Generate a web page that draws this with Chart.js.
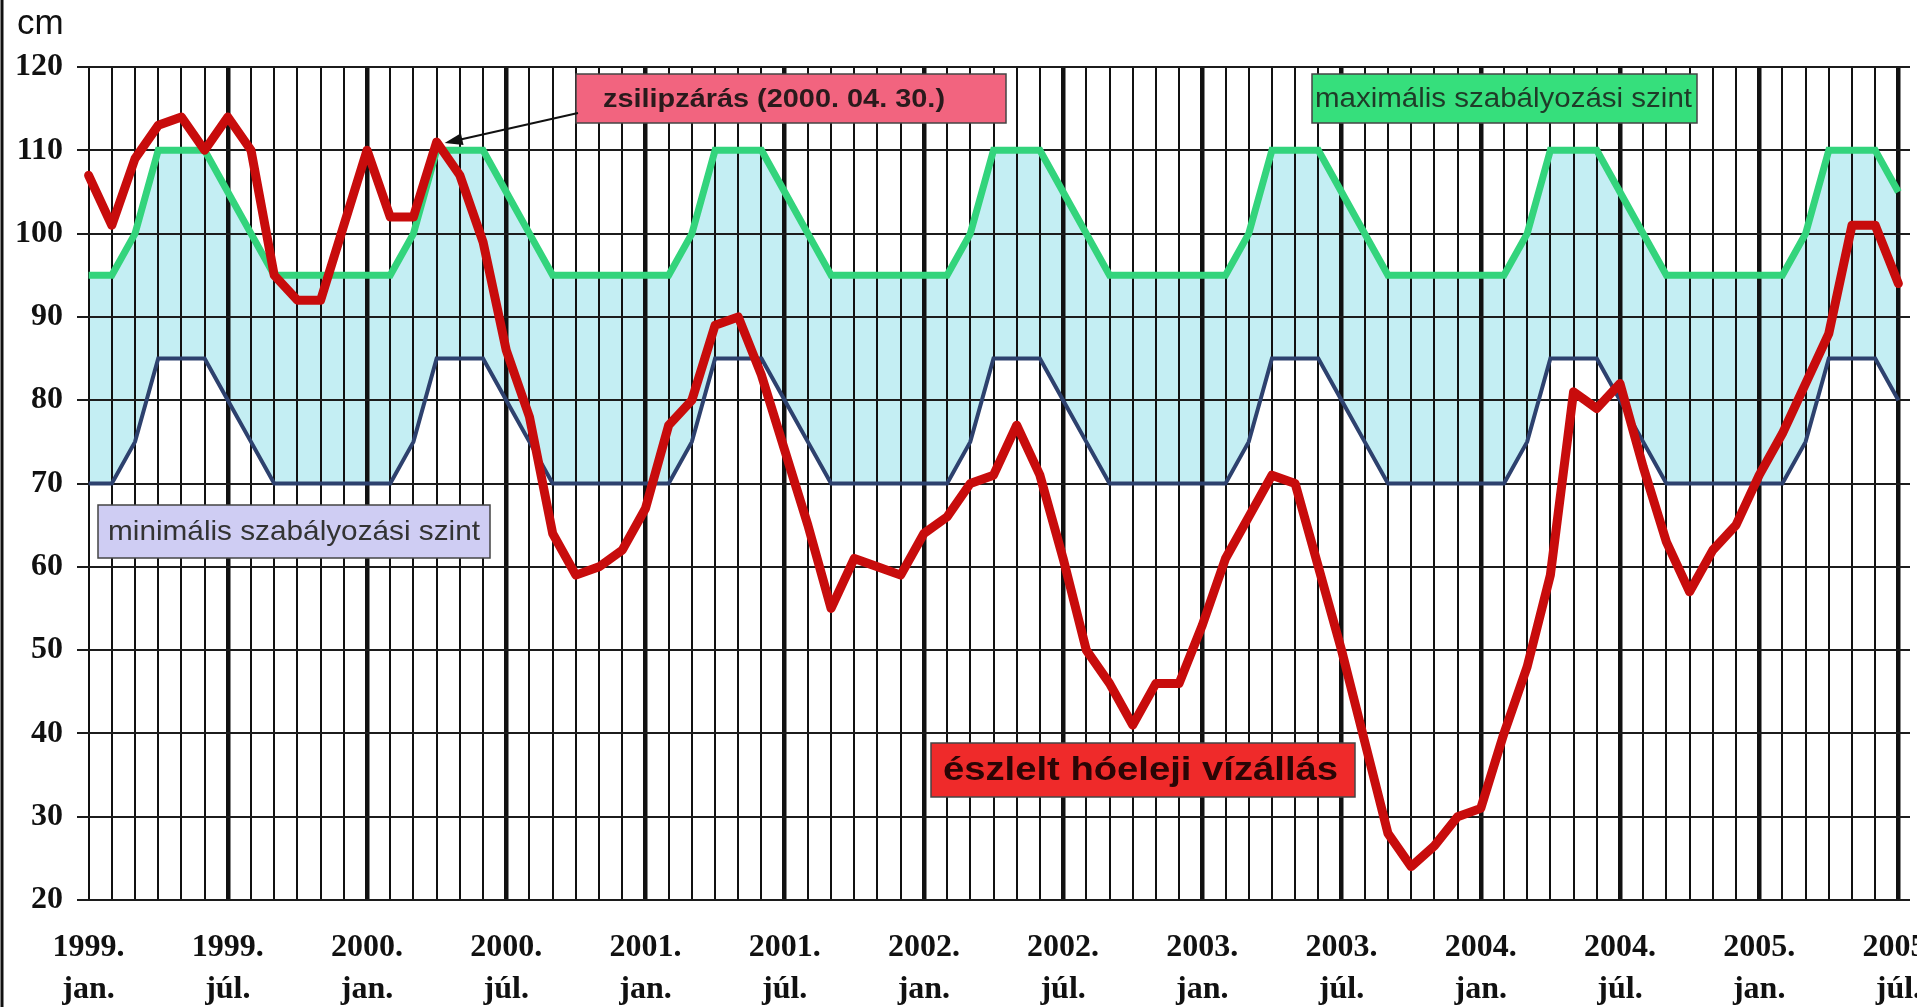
<!DOCTYPE html>
<html>
<head>
<meta charset="utf-8">
<script src="https://cdn.jsdelivr.net/npm/chart.js@4.4.0/dist/chart.umd.min.js"></script>
<style>
    html, body { margin: 0; padding: 0; background: #fff; }
    #wrap { position: relative; width: 1917px; height: 1007px; }
</style>
</head>
<body>
<div id="wrap"><canvas id="levels"></canvas></div>
<script>
// x tick labels, one every half year
const tickLabels = [
    ["1999.", "jan."], ["1999.", "júl."], ["2000.", "jan."], ["2000.", "júl."],
    ["2001.", "jan."], ["2001.", "júl."], ["2002.", "jan."], ["2002.", "júl."],
    ["2003.", "jan."], ["2003.", "júl."], ["2004.", "jan."], ["2004.", "júl."],
    ["2005.", "jan."], ["2005.", "júl."],
];

const years = [1999, 2000, 2001, 2002, 2003, 2004, 2005];
const monthNames = ["jan.", "febr.", "márc.", "ápr.", "máj.", "jún.", "júl.", "aug.", "szept.", "okt.", "nov.", "dec."];

// monthly values, 1999 jan. .. 2005 júl. (cm)
const observedLevel = [
    107, 101, 109, 113, 114, 110, 114, 110, 95, 92, 92, 101,
    110, 102, 102, 111, 107, 99, 86, 78, 64, 59, 60, 62,
    67, 77, 80, 89, 90, 83, 74, 65, 55, 61, 60, 59,
    64, 66, 70, 71, 77, 71, 61, 50, 46, 41, 46, 46,
    53, 61, 66, 71, 70, 60, 50, 39, 28, 24, 26.5, 30,
    31, 40, 48, 59, 81, 79, 82, 72, 63, 57, 62, 65,
    71, 76, 82, 88, 101, 101, 94,
];
const maxLevel = [
    95, 95, 100, 110, 110, 110, 105, 100, 95, 95, 95, 95,
    95, 95, 100, 110, 110, 110, 105, 100, 95, 95, 95, 95,
    95, 95, 100, 110, 110, 110, 105, 100, 95, 95, 95, 95,
    95, 95, 100, 110, 110, 110, 105, 100, 95, 95, 95, 95,
    95, 95, 100, 110, 110, 110, 105, 100, 95, 95, 95, 95,
    95, 95, 100, 110, 110, 110, 105, 100, 95, 95, 95, 95,
    95, 95, 100, 110, 110, 110, 105,
];
const minLevel = [
    70, 70, 75, 85, 85, 85, 80, 75, 70, 70, 70, 70,
    70, 70, 75, 85, 85, 85, 80, 75, 70, 70, 70, 70,
    70, 70, 75, 85, 85, 85, 80, 75, 70, 70, 70, 70,
    70, 70, 75, 85, 85, 85, 80, 75, 70, 70, 70, 70,
    70, 70, 75, 85, 85, 85, 80, 75, 70, 70, 70, 70,
    70, 70, 75, 85, 85, 85, 80, 75, 70, 70, 70, 70,
    70, 70, 75, 85, 85, 85, 80,
];

const monthLabels = [];
years.forEach((y) => monthNames.forEach((m) => monthLabels.push(y + ". " + m)));
monthLabels.length = observedLevel.length;

// label boxes drawn on top of the chart
const boxes = [
    { x: 576, y: 74, w: 430, h: 49, fill: "#f2647f", text: "zsilipzárás (2000. 04. 30.)",
      font: "bold 26px 'Liberation Sans', Arial, sans-serif", color: "#2a1a1c", tx: 603, tw: 342 },
    { x: 1312, y: 74, w: 385, h: 49, fill: "#36df7c", text: "maximális szabályozási szint",
      font: "27px 'Liberation Sans', Arial, sans-serif", color: "#1f3b28", tx: 1315, tw: 377 },
    { x: 98, y: 505, w: 392, h: 53, fill: "#cfcdf3", text: "minimális szabályozási szint",
      font: "28px 'Liberation Sans', Arial, sans-serif", color: "#333", tx: 108, tw: 372 },
    { x: 931, y: 743, w: 424, h: 54, fill: "#ef2a2a", text: "észlelt hóeleji vízállás",
      font: "bold 34px 'Liberation Sans', Arial, sans-serif", color: "#2a0505", tx: 943, tw: 395 },
];

const decorations = {
    id: "decorations",
    afterDraw(chart) {
        const ctx = chart.ctx;
        ctx.save();
        // frame line on the left
        ctx.strokeStyle = "#111";
        ctx.lineWidth = 3;
        ctx.beginPath();
        ctx.moveTo(2, 0);
        ctx.lineTo(2, 1007);
        ctx.stroke();

        ctx.fillStyle = "#111";
        ctx.font = "35px 'Liberation Sans', Arial, sans-serif";
        ctx.textBaseline = "alphabetic";
        ctx.fillText("cm", 17, 34);

        boxes.forEach((b) => {
            ctx.fillStyle = b.fill;
            ctx.fillRect(b.x, b.y, b.w, b.h);
            ctx.strokeStyle = "#444";
            ctx.lineWidth = 1.5;
            ctx.strokeRect(b.x, b.y, b.w, b.h);
            ctx.font = b.font;
            ctx.fillStyle = b.color;
            ctx.textBaseline = "middle";
            const w = ctx.measureText(b.text).width;
            ctx.save();
            ctx.translate(b.tx, b.y + b.h / 2 + 1);
            ctx.scale(b.tw / w, 1);
            ctx.fillText(b.text, 0, 0);
            ctx.restore();
        });

        // arrow from the sluice label to the April 2000 peak
        const xs = chart.scales.x, ys = chart.scales.y;
        const tipX = xs.getPixelForValue(15) + 8;
        const tipY = ys.getPixelForValue(observedLevel[15]) + 1;
        const fromX = 578, fromY = 113;
        const ang = Math.atan2(tipY - fromY, tipX - fromX);
        ctx.strokeStyle = "#111";
        ctx.fillStyle = "#111";
        ctx.lineWidth = 2;
        ctx.beginPath();
        ctx.moveTo(fromX, fromY);
        ctx.lineTo(tipX - 14 * Math.cos(ang), tipY - 14 * Math.sin(ang));
        ctx.stroke();
        ctx.beginPath();
        ctx.moveTo(tipX, tipY);
        ctx.lineTo(tipX - 18 * Math.cos(ang) + 6 * Math.sin(ang), tipY - 18 * Math.sin(ang) - 6 * Math.cos(ang));
        ctx.lineTo(tipX - 18 * Math.cos(ang) - 6 * Math.sin(ang), tipY - 18 * Math.sin(ang) + 6 * Math.cos(ang));
        ctx.closePath();
        ctx.fill();
        ctx.restore();
    },
};

const serif = "'Liberation Serif', 'Times New Roman', serif";

new Chart(document.getElementById("levels"), {
    type: "line",
    data: {
        labels: monthLabels,
        datasets: [
            {
                label: "észlelt hóeleji vízállás",
                data: observedLevel,
                borderColor: "#c80c0c",
                borderWidth: 9,
                borderJoinStyle: "round",
                borderCapStyle: "round",
                pointRadius: 0,
                tension: 0,
                fill: false,
            },
            {
                label: "maximális szabályozási szint",
                data: maxLevel,
                borderColor: "#33d47c",
                borderWidth: 7,
                pointRadius: 0,
                tension: 0,
                backgroundColor: "#c4eef3",
                fill: { target: 2 },
            },
            {
                label: "minimális szabályozási szint",
                data: minLevel,
                borderColor: "#2d416e",
                borderWidth: 4,
                pointRadius: 0,
                tension: 0,
                fill: false,
            },
        ],
    },
    options: {
        responsive: true,
        maintainAspectRatio: false,
        animation: false,
        devicePixelRatio: 1,
        layout: { padding: { top: 67, right: 7, bottom: 0, left: 0 } },
        plugins: {
            legend: { display: false },
            tooltip: { enabled: false },
            filler: { drawTime: "beforeDraw" },
        },
        scales: {
            x: {
                offset: true,
                border: { display: false },
                grid: {
                    offset: false,
                    drawTicks: false,
                    color: "#111",
                    lineWidth: (c) => (c.index % 6 === 0 && c.index > 0 ? 4.5 : 2),
                },
                ticks: {
                    autoSkip: false,
                    maxRotation: 0,
                    padding: 26,
                    color: "#111",
                    font: { family: serif, size: 32, weight: "bold", lineHeight: 1.33 },
                    callback: (v, i) => (i % 6 === 0 ? tickLabels[i / 6] : ""),
                },
                afterFit: (s) => {
                    s.height = 107;
                    s.paddingLeft = 0;
                    s.paddingRight = 0;
                },
            },
            y: {
                min: 20,
                max: 120,
                border: { display: false },
                grid: { drawTicks: false, color: "#1c1c1c", lineWidth: 2 },
                ticks: {
                    stepSize: 10,
                    padding: 14,
                    color: "#111",
                    font: { family: serif, size: 32, weight: "bold" },
                },
                afterFit: (s) => {
                    s.width = 77;
                },
            },
        },
    },
    plugins: [decorations],
});
</script>
</body>
</html>
